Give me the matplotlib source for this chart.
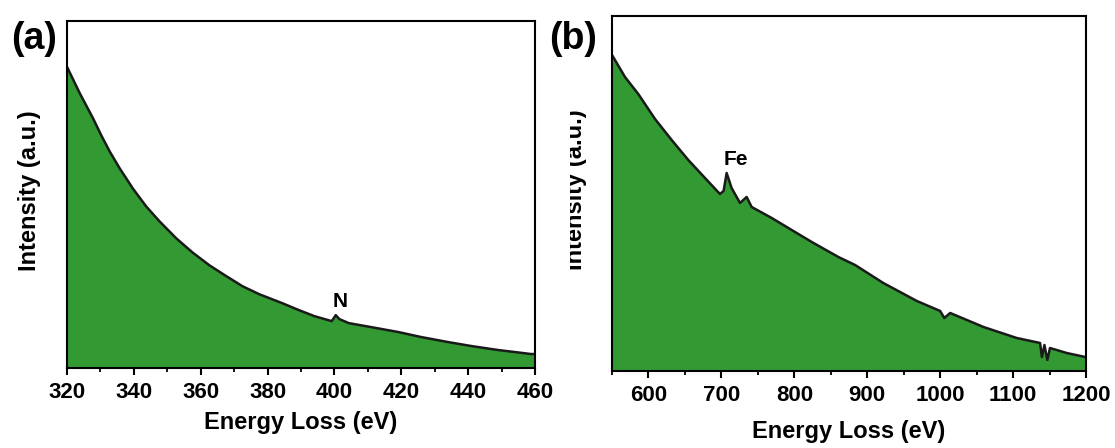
import matplotlib.pyplot as plt
from matplotlib.ticker import MultipleLocator
from matplotlib.transforms import Bbox, TransformedBbox

plt.rcParams['font.family'] = ['Liberation Sans', 'DejaVu Sans']
plt.rcParams['font.weight'] = 'bold'

# panel (a): N K-edge region
energia_a = [320, 323.9, 327.7, 330.3, 332.8, 335.8, 339.7, 343.7, 347.7, 352.7,
             357.5, 362.6, 367.7, 372.5, 377.5, 384.4, 389.4, 394.0, 399.2,
             400.4, 401.5, 404.3, 411.0, 419.2, 426.0, 434.0, 441.0, 449.0, 454.0,
             458.8, 460]
intens_a = [302, 275, 251, 233, 217, 200, 180, 162, 147, 130,
            116, 103, 92, 82, 74, 65, 58, 52, 47,
            53, 49, 45, 41, 36, 31, 26, 22, 18, 16,
            14, 14]

# panel (b): Fe L-edge region
energia_b = [550, 567.8, 586, 609, 631.8, 654.6, 677.5, 698, 703, 707.2,
             714, 725.5, 734.6, 741.5, 769, 791.8, 823.9, 860.4, 883.3, 922,
             968, 1000, 1005.7, 1013.7, 1059.4, 1105, 1137, 1139.5, 1143, 1147,
             1150.6, 1173.5, 1199, 1200]
intens_b = [316, 294, 277, 252, 231, 211, 193, 177, 180, 198,
            183, 168, 174, 164, 153, 143, 129, 114, 106, 88,
            70, 60, 53, 58, 44, 33, 28, 14, 26, 11,
            23, 18, 14, 14]

verde = '#339933'

fig = plt.figure(figsize=(11.15, 4.48), dpi=100)
ax_a = fig.add_axes([0.0601, 0.1786, 0.4197, 0.7745])
ax_b = fig.add_axes([0.5489, 0.1719, 0.4251, 0.7924])

paneles = [
    (ax_a, energia_a, intens_a, (320, 460), 348, 20, 10),
    (ax_b, energia_b, intens_b, (550, 1200), 355, 100, 50),
]
for ax, x, y, xlim, ytop, mayor, menor in paneles:
    ax.fill_between(x, y, 0, color=verde, linewidth=0)
    ax.plot(x, y, color='#1a1a1a', lw=1.8)
    ax.set_xlim(*xlim)
    ax.set_ylim(0, ytop)
    ax.xaxis.set_major_locator(MultipleLocator(mayor))
    ax.xaxis.set_minor_locator(MultipleLocator(menor))
    ax.set_yticks([])
    ax.tick_params(axis='x', which='major', direction='out', length=5, width=1.5,
                   labelsize=16, pad=5)
    ax.tick_params(axis='x', which='minor', direction='out', length=3, width=1.3)
    for s in ax.spines.values():
        s.set_linewidth(1.5)

ax_a.set_xlabel('Energy Loss (eV)', fontsize=17, fontweight='bold', labelpad=6)
ax_b.set_xlabel('Energy Loss (eV)', fontsize=17, fontweight='bold', labelpad=10)

ax_a.set_ylabel('Intensity (a.u.)', fontsize=17, fontweight='bold')
ax_a.yaxis.set_label_coords(-0.056, 0.51)
ax_b.set_ylabel('Intensity (a.u.)', fontsize=17, fontweight='bold')
ax_b.yaxis.set_label_coords(-0.053, 0.51)
# en la figura original la etiqueta de (b) queda recortada
recorte = TransformedBbox(Bbox([[570 / 1115, 0], [612 / 1115, 1]]), fig.transFigure)
ax_b.yaxis.label.set_clip_box(recorte)
ax_b.yaxis.label.set_clip_on(True)

ax_a.text(401.8, 67, 'N', fontsize=15, fontweight='bold', ha='center', va='center')
ax_b.text(719.4, 211, 'Fe', fontsize=15, fontweight='bold', ha='center', va='center')

fig.text(11 / 1115, 0.913, '(a)', fontsize=27, fontweight='bold', va='center', ha='left')
fig.text(549 / 1115, 0.913, '(b)', fontsize=27, fontweight='bold', va='center', ha='left')

plt.savefig('out.png', dpi=100)
plt.close()
